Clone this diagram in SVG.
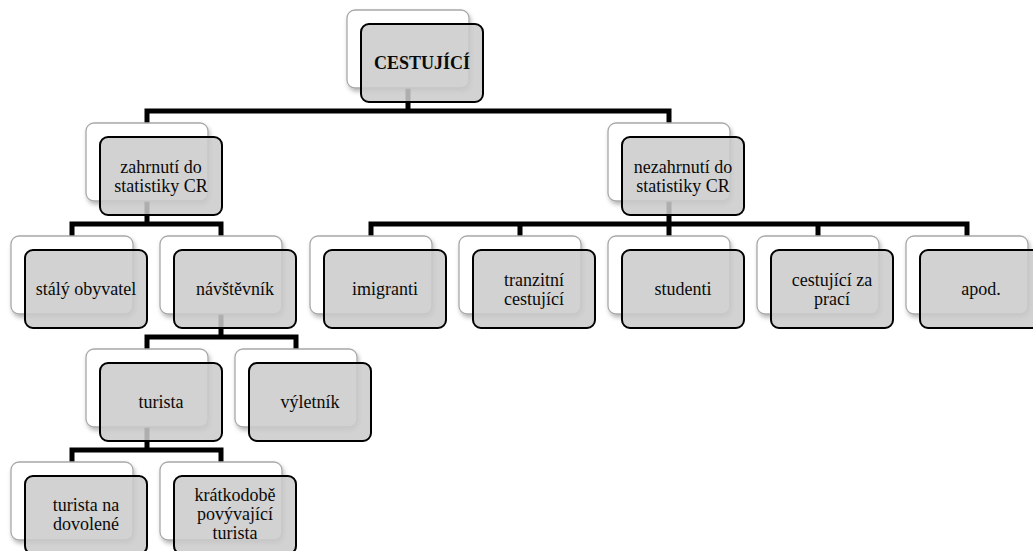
<svg xmlns="http://www.w3.org/2000/svg" width="1033" height="551" viewBox="0 0 1033 551">
<defs>
<filter id="sh" x="-10%" y="-10%" width="125%" height="130%">
<feDropShadow dx="1.5" dy="3" stdDeviation="2" flood-color="#000" flood-opacity="0.28"/>
</filter>
<style>
.back{fill:#ffffff;stroke:#a8a8a8;stroke-width:1.3;filter:url(#sh)}
.front{fill:#cbcbcb;fill-opacity:0.86;stroke:#000;stroke-width:2}
.t{font-family:'Liberation Serif',serif;font-size:18px;text-anchor:middle;fill:#0a0a0a}
.b{font-weight:bold}
.c{fill:none;stroke:#000;stroke-width:5;stroke-linejoin:miter}
</style>
</defs>
<rect width="1033" height="551" fill="#fff"/>
<g id="connectors">
<path class="c" d="M408,88 V111"/>
<path class="c" d="M147,123 V111 H669 V123"/>
<path class="c" d="M147,201 V224"/>
<path class="c" d="M72,236 V224 H221 V236"/>
<path class="c" d="M669,201 V224"/>
<path class="c" d="M371,236 V224 H967 V236"/>
<path class="c" d="M520,224 V236 M669,224 V236 M818,224 V236"/>
<path class="c" d="M221,314 V337"/>
<path class="c" d="M147,349 V337 H296 V349"/>
<path class="c" d="M147,427 V450"/>
<path class="c" d="M72,462 V450 H221 V462"/>
</g>
<g id="cestujici">
<rect class="back" x="347" y="10" width="122" height="78" rx="8"/>
<rect class="front" x="361" y="24" width="122" height="78" rx="8"/>
<text class="t b" x="422" y="69">CESTUJÍCÍ</text>
</g>
<g id="zahrnuti">
<rect class="back" x="86" y="123" width="122" height="78" rx="8"/>
<rect class="front" x="100" y="137" width="122" height="78" rx="8"/>
<text class="t" x="161" y="172.5">zahrnutí do</text>
<text class="t" x="161" y="191.5">statistiky CR</text>
</g>
<g id="nezahrnuti">
<rect class="back" x="608" y="123" width="122" height="78" rx="8"/>
<rect class="front" x="622" y="137" width="122" height="78" rx="8"/>
<text class="t" x="683" y="172.5">nezahrnutí do</text>
<text class="t" x="683" y="191.5">statistiky CR</text>
</g>
<g id="staly-obyvatel">
<rect class="back" x="11" y="236" width="122" height="78" rx="8"/>
<rect class="front" x="25" y="250" width="122" height="78" rx="8"/>
<text class="t" x="86" y="295">stálý obyvatel</text>
</g>
<g id="navstevnik">
<rect class="back" x="160" y="236" width="122" height="78" rx="8"/>
<rect class="front" x="174" y="250" width="122" height="78" rx="8"/>
<text class="t" x="235" y="295">návštěvník</text>
</g>
<g id="imigranti">
<rect class="back" x="310" y="236" width="122" height="78" rx="8"/>
<rect class="front" x="324" y="250" width="122" height="78" rx="8"/>
<text class="t" x="385" y="295">imigranti</text>
</g>
<g id="tranzitni">
<rect class="back" x="459" y="236" width="122" height="78" rx="8"/>
<rect class="front" x="473" y="250" width="122" height="78" rx="8"/>
<text class="t" x="534" y="285.5">tranzitní</text>
<text class="t" x="534" y="304.5">cestující</text>
</g>
<g id="studenti">
<rect class="back" x="608" y="236" width="122" height="78" rx="8"/>
<rect class="front" x="622" y="250" width="122" height="78" rx="8"/>
<text class="t" x="683" y="295">studenti</text>
</g>
<g id="cestujici-za-praci">
<rect class="back" x="757" y="236" width="122" height="78" rx="8"/>
<rect class="front" x="771" y="250" width="122" height="78" rx="8"/>
<text class="t" x="832" y="285.5">cestující za</text>
<text class="t" x="832" y="304.5">prací</text>
</g>
<g id="apod">
<rect class="back" x="906" y="236" width="122" height="78" rx="8"/>
<rect class="front" x="920" y="250" width="122" height="78" rx="8"/>
<text class="t" x="981" y="295">apod.</text>
</g>
<g id="turista">
<rect class="back" x="86" y="349" width="122" height="78" rx="8"/>
<rect class="front" x="100" y="363" width="122" height="78" rx="8"/>
<text class="t" x="161" y="408">turista</text>
</g>
<g id="vyletnik">
<rect class="back" x="235" y="349" width="122" height="78" rx="8"/>
<rect class="front" x="249" y="363" width="122" height="78" rx="8"/>
<text class="t" x="310" y="408">výletník</text>
</g>
<g id="turista-na-dovolene">
<rect class="back" x="11" y="462" width="122" height="78" rx="8"/>
<rect class="front" x="25" y="476" width="122" height="78" rx="8"/>
<text class="t" x="86" y="510.5">turista na</text>
<text class="t" x="86" y="529.5">dovolené</text>
</g>
<g id="kratkodobe">
<rect class="back" x="160" y="462" width="122" height="78" rx="8"/>
<rect class="front" x="174" y="476" width="122" height="78" rx="8"/>
<text class="t" x="235" y="501">krátkodobě</text>
<text class="t" x="235" y="520">povývající</text>
<text class="t" x="235" y="539">turista</text>
</g>
</svg>
